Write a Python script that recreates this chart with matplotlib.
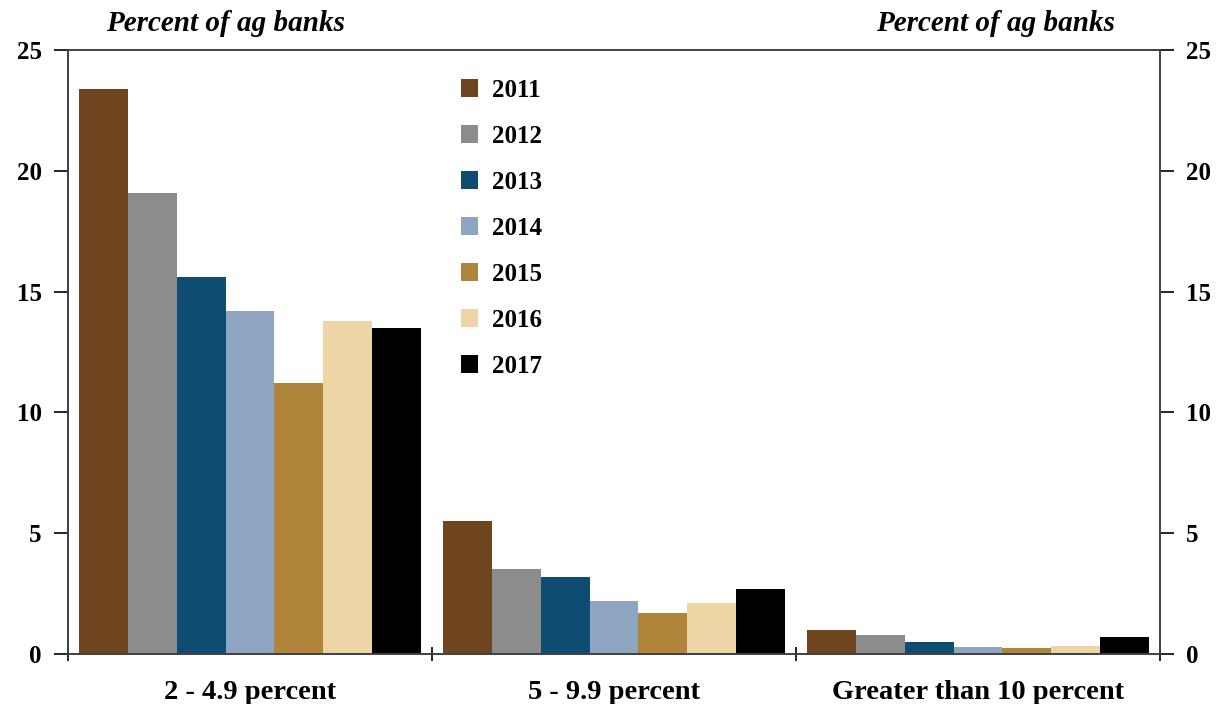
import numpy as np
import matplotlib.pyplot as plt

categories = ["2 - 4.9 percent", "5 - 9.9 percent", "Greater than 10 percent"]
years = ["2011", "2012", "2013", "2014", "2015", "2016", "2017"]
values = {
    "2011": [23.4, 5.5, 1.0],
    "2012": [19.1, 3.5, 0.8],
    "2013": [15.6, 3.2, 0.5],
    "2014": [14.2, 2.2, 0.3],
    "2015": [11.2, 1.7, 0.25],
    "2016": [13.8, 2.1, 0.35],
    "2017": [13.5, 2.7, 0.7],
}
colors = ["#6f4520", "#8c8c8c", "#0f4c72", "#8ea6c2", "#b0843a", "#edd5a5", "#000000"]

plt.rcParams['font.family'] = ['Liberation Serif', 'DejaVu Serif']

fig = plt.figure(figsize=(12.24, 7.04), dpi=100)
ax = fig.add_axes([0.0556, 0.071, 0.8921, 0.858])

x = np.arange(len(categories))
n = len(years)
w = 0.94 / n
for i, yr in enumerate(years):
    ax.bar(x + (i - (n - 1) / 2) * w, values[yr], width=w, color=colors[i], label=yr)

ax.set_xlim(-0.5, 2.5)
ax.set_ylim(0, 25)
ax.set_yticks(range(0, 26, 5))
ax.tick_params(axis='y', which='both', direction='out', length=10, width=1.2,
               labelsize=18, left=True, right=True, labelleft=True, labelright=True, pad=9)
for lbl in ax.get_yticklabels():
    lbl.set_fontweight('bold')
ax.set_xticks(x)
ax.set_xticklabels(categories, fontsize=20.5, fontweight='bold')
ax.tick_params(axis='x', which='major', length=0, pad=19)
ax.set_xticks([-0.5, 0.5, 1.5, 2.5], minor=True)
ax.tick_params(axis='x', which='minor', direction='inout', length=10, width=1.2)

for s in ax.spines.values():
    s.set_linewidth(1.4)
    s.set_color('#404040')

fig.text(0.184, 0.966, "Percent of ag banks", ha='center', va='center',
         fontsize=21, fontweight='bold', style='italic')
fig.text(0.813, 0.966, "Percent of ag banks", ha='center', va='center',
         fontsize=21, fontweight='bold', style='italic')

leg = ax.legend(loc='upper left', bbox_to_anchor=(0.339, 0.99), frameon=False,
                handlelength=0.7, handleheight=0.7, handletextpad=0.55,
                labelspacing=0.92, prop={'size': 18, 'weight': 'bold'})

fig.savefig("out.png", dpi=100)
